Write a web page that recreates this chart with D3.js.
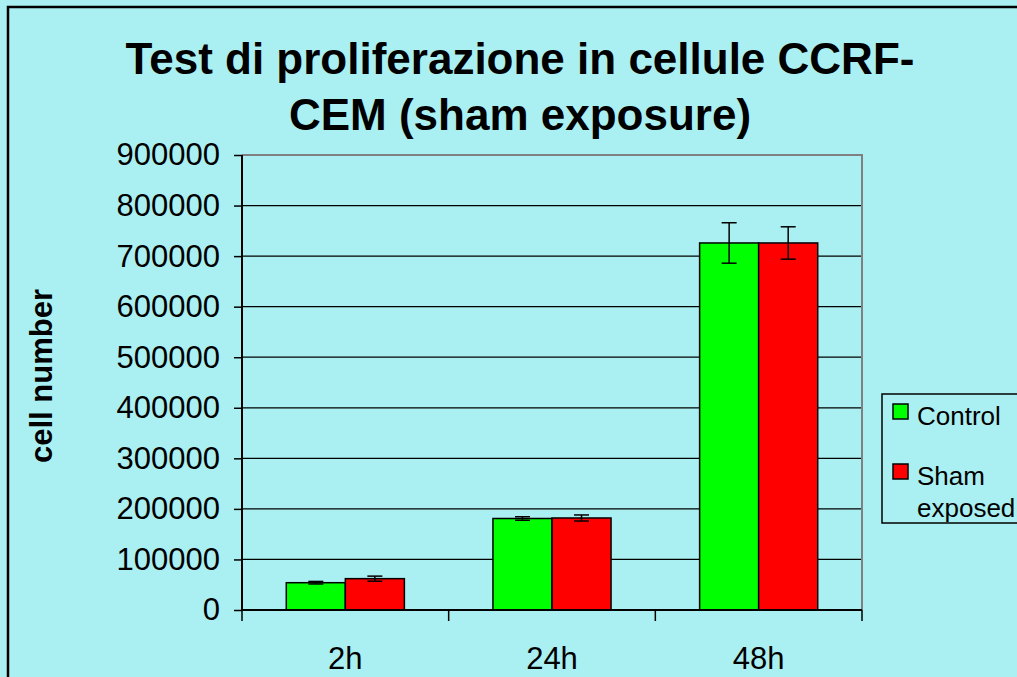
<!DOCTYPE html>
<html>
<head>
<meta charset="utf-8">
<script src="https://cdn.jsdelivr.net/npm/d3@7"></script>
<style>
  html, body { margin: 0; overflow: hidden; background: #aaf0f2; }
  svg { display: block; font-family: "Liberation Sans", Arial, sans-serif; }
</style>
</head>
<body>
<svg id="chart" width="1017" height="677"></svg>
<script>
// data
var categories = ["2h", "24h", "48h"];
var seriesNames = ["Control", "Sham exposed"];
var controlValues = [54000, 181000, 726000];
var controlErrors = [2500, 3500, 40000];
var shamValues = [62000, 182000, 726000];
var shamErrors = [5000, 6000, 32000];
var yTicks = [0, 100000, 200000, 300000, 400000, 500000, 600000, 700000, 800000, 900000];
var colors = ["#00ff00", "#ff0000"];

var svg = d3.select("#chart");

// outer chart border: only left and top edges are on the page
svg.append("path")
    .attr("d", "M8,700V7H1030")
    .attr("fill", "none")
    .attr("stroke", "#000").attr("stroke-width", 2.5);

var margin = {top: 155, left: 242, right: 862, bottom: 610};
var width = margin.right - margin.left,
    height = margin.bottom - margin.top;

var x = d3.scaleBand().domain(categories).range([0, width]).paddingInner(0).paddingOuter(0);
var y = d3.scaleLinear().domain([0, 900000]).range([height, 0]);

var g = svg.append("g").attr("transform", "translate(" + margin.left + "," + margin.top + ")");

// gridlines
g.selectAll(".grid")
    .data(yTicks.slice(1, -1))
    .enter().append("line")
    .attr("x1", 0).attr("x2", width)
    .attr("y1", function(d) { return y(d); })
    .attr("y2", function(d) { return y(d); })
    .attr("stroke", "#000").attr("stroke-width", 1.2);

// plot area border top/right (gray)
g.append("path")
    .attr("d", "M0," + y(900000) + "H" + width + "V" + height)
    .attr("fill", "none").attr("stroke", "#808080").attr("stroke-width", 2);

// bars
var barW = x.bandwidth() / 3.5;
var gap = x.bandwidth() * 0.75 / 3.5;
var series = [
    {name: seriesNames[0], values: controlValues, errors: controlErrors},
    {name: seriesNames[1], values: shamValues, errors: shamErrors}
];

series.forEach(function(s, si) {
    var sg = g.append("g");
    sg.selectAll("rect")
        .data(categories)
        .enter().append("rect")
        .attr("x", function(d) { return x(d) + gap + si * barW; })
        .attr("y", function(d, i) { return y(s.values[i]); })
        .attr("width", barW)
        .attr("height", function(d, i) { return height - y(s.values[i]); })
        .attr("fill", colors[si])
        .attr("stroke", "#000").attr("stroke-width", 1.5);

    // error bars
    categories.forEach(function(c, i) {
        var cx = x(c) + gap + si * barW + barW / 2;
        var lo = y(s.values[i] - s.errors[i]), hi = y(s.values[i] + s.errors[i]);
        sg.append("line").attr("x1", cx).attr("x2", cx).attr("y1", lo).attr("y2", hi)
            .attr("stroke", "#000").attr("stroke-width", 1.5);
        [lo, hi].forEach(function(yy) {
            sg.append("line").attr("x1", cx - 7.5).attr("x2", cx + 7.5).attr("y1", yy).attr("y2", yy)
                .attr("stroke", "#000").attr("stroke-width", 1.5);
        });
    });
});

// y axis
var yAxis = g.append("g")
    .call(d3.axisLeft(y).tickValues(yTicks).tickSize(8).tickPadding(14).tickFormat(d3.format("d")));
yAxis.select(".domain").attr("stroke-width", 2).attr("d", "M0," + height + "V0");
yAxis.selectAll(".tick line").attr("stroke-width", 1.5);
yAxis.selectAll("text").attr("font-size", 31).attr("fill", "#000")
    .attr("font-family", "Liberation Sans, Arial, sans-serif");

// x axis
var xAxis = g.append("g")
    .attr("transform", "translate(0," + height + ")")
    .call(d3.axisBottom(x).tickSize(0).tickPadding(0));
xAxis.select(".domain").remove();
xAxis.append("line").attr("x1", 0).attr("x2", width).attr("stroke", "#000").attr("stroke-width", 2);
xAxis.selectAll(".sep")
    .data(categories.concat(["end"]))
    .enter().append("line")
    .attr("x1", function(d, i) { return i * x.bandwidth(); })
    .attr("x2", function(d, i) { return i * x.bandwidth(); })
    .attr("y1", 0).attr("y2", 11)
    .attr("stroke", "#000").attr("stroke-width", 1.5);
xAxis.selectAll(".tick text").attr("font-size", 31).attr("fill", "#000")
    .attr("font-family", "Liberation Sans, Arial, sans-serif")
    .attr("dy", null).attr("y", 59);

// title
var title = svg.append("text")
    .attr("text-anchor", "middle")
    .attr("font-size", 44).attr("font-weight", "bold");
title.append("tspan").attr("x", 520).attr("y", 74).text("Test di proliferazione in cellule CCRF-");
title.append("tspan").attr("x", 520).attr("y", 130).text("CEM (sham exposure)");

// y label
svg.append("text")
    .attr("transform", "translate(52,376) rotate(-90)")
    .attr("text-anchor", "middle")
    .attr("font-size", 31).attr("font-weight", "bold")
    .text("cell number");

// legend
var lg = svg.append("g");
lg.append("path").attr("d", "M1030,394H882V523H1030")
    .attr("fill", "none").attr("stroke", "#000").attr("stroke-width", 1.5);
var legendY = [404, 464];
seriesNames.forEach(function(n, i) {
    lg.append("rect").attr("x", 893).attr("y", legendY[i]).attr("width", 15).attr("height", 15)
        .attr("fill", colors[i]).attr("stroke", "#000").attr("stroke-width", 1.5);
});
lg.append("text").attr("x", 917).attr("y", 425).attr("font-size", 26).text("Control");
var t2 = lg.append("text").attr("font-size", 26);
t2.append("tspan").attr("x", 917).attr("y", 485).text("Sham");
t2.append("tspan").attr("x", 917).attr("y", 517).text("exposed");
</script>
</body>
</html>
